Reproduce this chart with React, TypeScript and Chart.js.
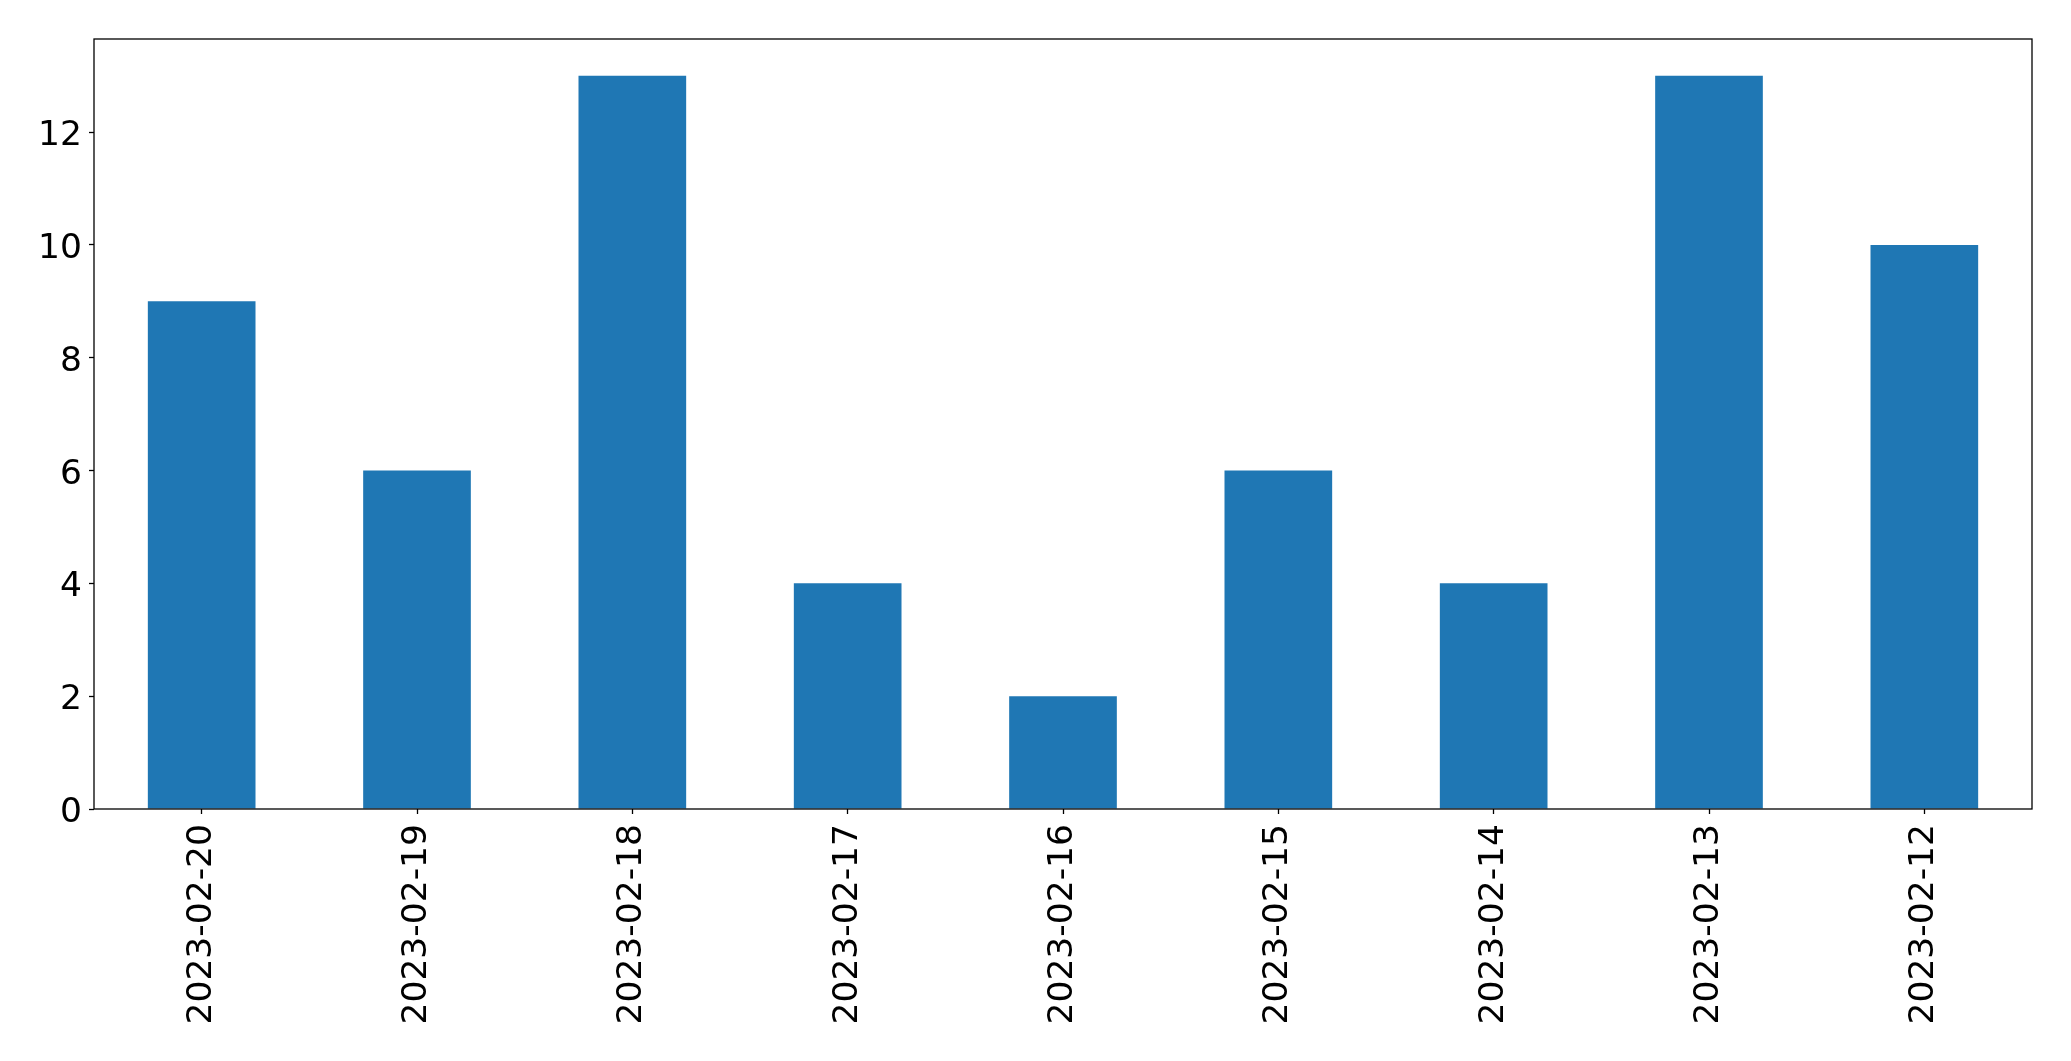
import React, { useEffect, useRef } from "react";
import { Chart, registerables } from "chart.js";

Chart.register(...registerables);

const categories = [
  "2023-02-20",
  "2023-02-19",
  "2023-02-18",
  "2023-02-17",
  "2023-02-16",
  "2023-02-15",
  "2023-02-14",
  "2023-02-13",
  "2023-02-12",
];
const counts = [9, 6, 13, 4, 2, 6, 4, 13, 10];
const yTickValues = [0, 2, 4, 6, 8, 10, 12];

const W = 2071;
const H = 1061;
const FONT = "'DejaVu Sans', sans-serif";

const framePlugin = {
  id: "frame",
  afterDraw(chart: any) {
    const { ctx, chartArea } = chart;
    ctx.save();
    ctx.strokeStyle = "#000";
    ctx.lineWidth = 1.3;
    ctx.strokeRect(chartArea.left, chartArea.top, chartArea.right - chartArea.left, chartArea.bottom - chartArea.top);
    ctx.restore();
  },
};

export default function App() {
  const ref = useRef<HTMLCanvasElement | null>(null);
  useEffect(() => {
    if (!ref.current) return;
    const maxVal = Math.max(...counts) * 1.05;
    const chart = new Chart(ref.current, {
      type: "bar",
      data: {
        labels: categories,
        datasets: [
          {
            data: counts,
            backgroundColor: "#1f77b4",
            borderWidth: 0,
            barPercentage: 0.5,
            categoryPercentage: 1,
          },
        ],
      },
      options: {
        responsive: false,
        animation: false,
        events: [],
        layout: { padding: { top: 39, right: 39, left: 0, bottom: 0 } },
        plugins: { legend: { display: false }, tooltip: { enabled: false } },
        scales: {
          x: {
            offset: true,
            grid: { offset: false, drawOnChartArea: false, tickLength: 5, color: "#000", tickWidth: 1.3 },
            border: { display: false },
            ticks: {
              color: "#000",
              font: { family: FONT, size: 34.5 },
              minRotation: 90,
              maxRotation: 90,
              padding: 10,
              autoSkip: false,
            },
            afterFit(scale: any) {
              scale.height = 252;
            },
          },
          y: {
            min: 0,
            max: maxVal,
            grid: { drawOnChartArea: false, tickLength: 5, color: "#000", tickWidth: 1.3 },
            border: { display: false },
            ticks: {
              color: "#000",
              font: { family: FONT, size: 34.5 },
              padding: 7,
              stepSize: 2,
              labelOffset: 4,
            },
            afterBuildTicks(scale: any) {
              scale.ticks = yTickValues.map((v) => ({ value: v }));
            },
            afterFit(scale: any) {
              scale.width = 94;
            },
          },
        },
      },
      plugins: [framePlugin],
    });
    return () => chart.destroy();
  }, []);
  return (
    <div style={{ position: "fixed", left: 0, top: 0, width: W, height: H, background: "#fff" }}>
      <canvas ref={ref} width={W} height={H} style={{ width: W, height: H, display: "block" }} />
    </div>
  );
}
